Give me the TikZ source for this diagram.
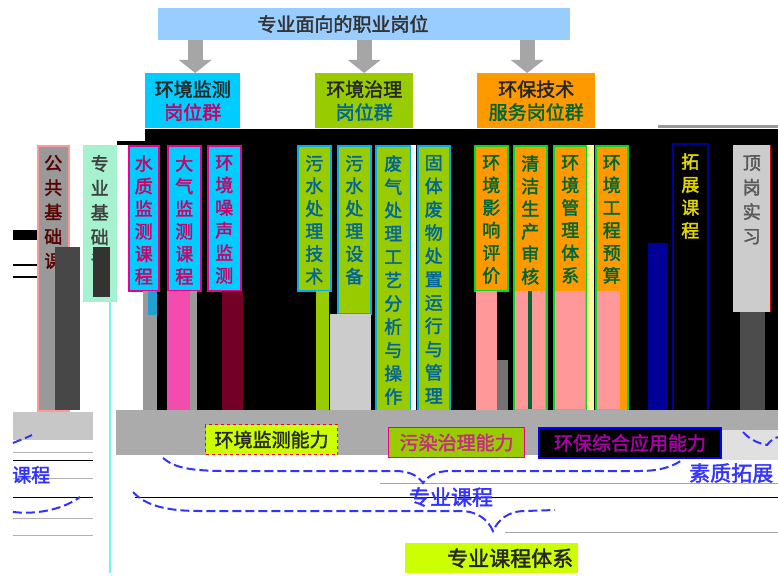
\documentclass[tikz,border=0pt]{standalone}
\usepackage{fontspec}
\newfontfamily\cjk{Noto Sans CJK SC}[AutoFakeBold=2]
\usetikzlibrary{arrows.meta}
\definecolor{topblue}{HTML}{99CCFF}
\definecolor{arrgray}{HTML}{A6A6A6}
\definecolor{gcyan}{HTML}{00CCFF}
\definecolor{ggreen}{HTML}{99CC00}
\definecolor{gorange}{HTML}{FF9900}
\definecolor{magtext}{HTML}{CC0066}
\definecolor{tealtext}{HTML}{006699}
\definecolor{dkgreen}{HTML}{006633}
\definecolor{mint}{HTML}{A6F2D0}
\definecolor{salmon}{HTML}{FF9999}
\definecolor{lime}{HTML}{CCFF00}
\definecolor{braceblue}{HTML}{3333FF}
\definecolor{navy}{HTML}{000099}
\newcommand\vcol[8]{%
  \node[colbox,#6,anchor=north west,minimum width=#4pt,minimum height=#5pt] (#1) at (#2,#3) {};
  \node[coltext,#7,anchor=north] (#1t) at ([yshift=-10pt]#1.north) {#8};}
\begin{document}
\begin{tikzpicture}[x=1pt,y=-1pt,
  colbox/.style={draw,line width=1.5pt,inner sep=0pt},
  coltext/.style={font=\cjk\bfseries\fontsize{18}{22.6}\selectfont,align=center,inner sep=0pt},
  widetext/.style={font=\cjk\bfseries\fontsize{18}{24.5}\selectfont},
  grpbox/.style={anchor=north west,inner sep=0pt},
  grptext/.style={font=\cjk\bfseries\fontsize{19}{23}\selectfont,align=center,inner sep=0pt},
  ability/.style={anchor=north west,inner sep=0pt},
  abtext/.style={font=\cjk\bfseries\fontsize{19}{23}\selectfont,inner sep=0pt},
  bluelabel/.style={font=\cjk\bfseries\fontsize{21}{25}\selectfont,text=braceblue,inner sep=0pt},
  bracepath/.style={draw=braceblue,line width=2pt,dash pattern=on 9pt off 4pt},
  garrow/.style={draw=arrgray,line width=15pt,-{Triangle[length=13pt,width=32pt]}}]
\useasboundingbox (0,0) rectangle (778,575);
\fill[white] (0,0) rectangle (778,575);
% top box
\node[grpbox,fill=topblue,minimum width=412pt,minimum height=32pt] (top) at (158,8) {};
\node[grptext,text=black!80] (toptxt) at (343,24) {专业面向的职业岗位};
% group boxes
\node[grpbox,fill=gcyan,minimum width=95pt,minimum height=55pt] (g1) at (145,73) {};
\node[grptext] (g1t) at (g1.center) {\textcolor{black!85}{环境监测}\\\textcolor{magtext}{岗位群}};
\node[grpbox,fill=ggreen,minimum width=98pt,minimum height=55pt] (g2) at (315,73) {};
\node[grptext] (g2t) at (g2.center) {\textcolor{black!85}{环境治理}\\\textcolor{tealtext}{岗位群}};
\node[grpbox,fill=gorange,minimum width=118pt,minimum height=55pt] (g3) at (477,73) {};
\node[grptext] (g3t) at (g3.center) {\textcolor{black!85}{环保技术}\\\textcolor{dkgreen}{服务岗位群}};
% arrows
\draw[garrow] ([xshift=2.5pt]g1.north |- top.south) -- ([xshift=2.5pt]g1.north);
\draw[garrow] (g2.north |- top.south) -- (g2.north);
\draw[garrow] ([xshift=-9pt]g3.north |- top.south) -- ([xshift=-9pt]g3.north);
% background
\fill[black] (145,129) rectangle (778,410);
\fill[black] (117,141) rectangle (145,145);
\fill[black!40] (658,125) rectangle (778,128);
% left artifacts
\fill[black] (13,230) rectangle (37,240);
\fill[black] (13,264) rectangle (45,266);
\fill[black] (13,276) rectangle (45,278);
\draw[mint!70!cyan,line width=1.5pt] (110,300) -- (110,573);
% columns
\vcol{c1}{37}{145}{31}{265}{fill=black!40,draw=salmon}{text=black!65!red,widetext}{公\\共\\基\\础\\课}
\fill[black!72] (55,247) rectangle (80,410);
\vcol{c2}{83}{145}{32}{155}{fill=mint,draw=mint}{text=black!75,widetext}{专\\业\\基\\础\\课}
\fill[black!80] (93,247) rectangle (110,297);
\vcol{c3}{128}{145}{30}{145}{fill=gcyan,draw=magenta}{text=magtext}{水\\质\\监\\测\\课\\程}
\vcol{c4}{167}{145}{33}{145}{fill=gcyan,draw=magenta}{text=magtext}{大\\气\\监\\测\\课\\程}
\vcol{c5}{207}{145}{33}{145}{fill=gcyan,draw=magenta}{text=magtext}{环\\境\\噪\\声\\监\\测}
\fill[black!40] (143,291) rectangle (157,410);
\fill[cyan!70!teal] (148,291) rectangle (157,315);
\fill[magenta!70] (167,291) rectangle (190,410);
\fill[black!40] (190,291) rectangle (197,410);
\fill[purple!60!black] (222,291) rectangle (243,410);
\vcol{c6}{297}{145}{33}{145}{fill=ggreen,draw=cyan}{text=tealtext}{污\\水\\处\\理\\技\\术}
\vcol{c7}{337}{145}{33}{168}{fill=ggreen,draw=cyan}{text=tealtext}{污\\水\\处\\理\\设\\备}
\fill[ggreen] (316,291) rectangle (329,410);
\fill[black!20] (330,314) rectangle (371,410);
\vcol{c8}{375}{145}{35}{265}{fill=ggreen,draw=cyan}{text=tealtext,font=\cjk\bfseries\fontsize{18}{23.3}\selectfont}{废\\气\\处\\理\\工\\艺\\分\\析\\与\\操\\作}
\fill[white] (411,145) rectangle (416,410);
\vcol{c9}{417}{145}{32}{265}{fill=ggreen,draw=cyan}{text=tealtext,font=\cjk\bfseries\fontsize{18}{23.3}\selectfont}{固\\体\\废\\物\\处\\置\\运\\行\\与\\管\\理}
\vcol{c10}{474}{145}{33}{145}{fill=gorange,draw=green!70!teal}{text=dkgreen}{环\\境\\影\\响\\评\\价}
\fill[salmon] (476,291) rectangle (497,410);
\fill[black!55] (497,360) rectangle (508,410);
\vcol{c11}{513}{145}{33}{265}{fill=gorange,draw=green!70!teal}{text=dkgreen}{清\\洁\\生\\产\\审\\核}
\fill[salmon] (515,291) rectangle (545,409);
\fill[dkgreen] (528,291) rectangle (532,409);
\vcol{c12}{553}{145}{33}{265}{fill=gorange,draw=green!70!teal}{text=dkgreen}{环\\境\\管\\理\\体\\系}
\fill[salmon] (555,291) rectangle (585,409);
\fill[yellow!40] (587,145) rectangle (594,410);
\vcol{c13}{595}{145}{32}{265}{fill=gorange,draw=green!70!teal}{text=dkgreen}{环\\境\\工\\程\\预\\算}
\fill[salmon] (597,291) rectangle (620,409);
\fill[navy] (648,243) rectangle (668,410);
\vcol{c14}{672}{143}{35}{267}{fill=black,draw=navy}{text=yellow!75!olive,font=\cjk\bfseries\fontsize{18}{23}\selectfont}{拓\\展\\课\\程}
\vcol{c15}{733}{145}{36}{165}{fill=black!20,draw=black!20}{text=black!65,widetext}{顶\\岗\\实\\习}
\draw[red!80!black,line width=1.5pt] (c15.north east) -- (c15.south east);
\fill[black!70] (740,312) rectangle (765,410);
% bottom band
\fill[black!33] (116,410) rectangle (778,455);
\fill[black!22] (13,412) rectangle (93,440);
\draw[black!30,line width=1pt] (13,452) -- (93,452) (13,478) -- (93,478) (13,518) -- (93,518) (13,535) -- (93,535);
\draw[black,line width=1pt] (13,460) -- (93,460) (13,497) -- (93,497);
\fill[black!12] (722,430) rectangle (778,460);
\draw[black,line width=1pt] (135,497) -- (778,497);
\draw[black!35,line width=1pt] (380,483) -- (778,483) (505,532) -- (778,532);
% ability boxes
\node[ability,fill=lime,draw=red,dashed,line width=1.2pt,minimum width=132pt,minimum height=30pt] (a1) at (205,424) {};
\node[abtext,text=black!85] (a1t) at (a1.center) {环境监测能力};
\node[ability,fill=ggreen,draw=magenta,line width=1.2pt,minimum width=136pt,minimum height=30pt] (a2) at (388,427) {};
\node[abtext,text=magenta!80!black] (a2t) at (a2.center) {污染治理能力};
\node[ability,fill=black,draw=blue,line width=2pt,minimum width=182pt,minimum height=30pt] (a3) at (538,427) {};
\node[abtext,text=violet!70!magenta] (a3t) at (a3.center) {环保综合应用能力};
% braces
\draw[bracepath] (163,458) .. controls (175,468) and (190,471) .. (230,471) -- (395,471) .. controls (410,471) and (418,476) .. (423,483) .. controls (428,476) and (436,471) .. (450,471) -- (640,471) .. controls (660,471) and (675,466) .. (683,459);
\draw[bracepath] (133,492) .. controls (145,505) and (165,511) .. (200,511) -- (460,511) .. controls (478,511) and (488,520) .. (493,531) .. controls (498,520) and (508,511) .. (525,511) -- (555,510);
\draw[bracepath] (743,432) .. controls (750,440) and (758,443) .. (767,445) .. controls (770,441) and (774,438) .. (778,437);
\draw[bracepath] (13,443) .. controls (20,440) and (26,438) .. (32,435);
\draw[bracepath] (13,512) .. controls (40,515) and (65,508) .. (80,497);
% labels
\node[bluelabel,font=\cjk\bfseries\fontsize{19}{23}\selectfont,anchor=west] (lk) at (12,475) {课程};
\node[bluelabel] (lz) at (451,497) {专业课程};
\node[bluelabel,anchor=west] (ls) at (689,473) {素质拓展};
\node[ability,fill=lime,minimum width=173pt,minimum height=30pt] (sys) at (405,543) {};
\node[abtext,font=\cjk\bfseries\fontsize{21}{25}\selectfont,text=black!85,anchor=east] (syst) at ([xshift=-5pt]sys.east) {专业课程体系};
\end{tikzpicture}
\end{document}
